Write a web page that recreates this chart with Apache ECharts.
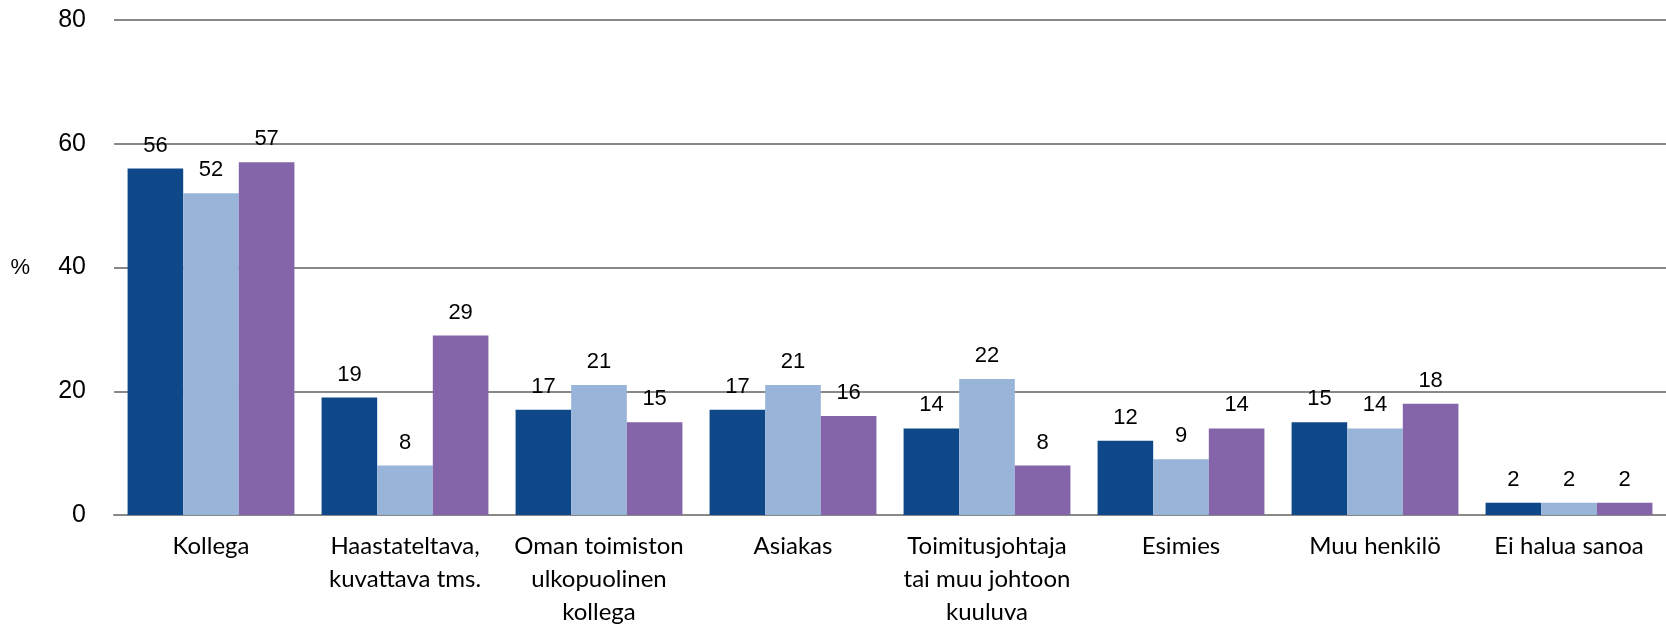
<!DOCTYPE html>
<html>
<head>
<meta charset="utf-8">
<script src="https://cdn.jsdelivr.net/npm/echarts@6/dist/echarts.min.js"></script>
<style>
  html, body { margin: 0; padding: 0; background: #fff; }
  #chart { width: 1666px; height: 629px; }
</style>
</head>
<body>
<div id="chart"></div>
<script>
// kategoriat (x-akseli)
const categories = [
  'Kollega',
  'Haastateltava,\nkuvattava tms.',
  'Oman toimiston\nulkopuolinen\nkollega',
  'Asiakas',
  'Toimitusjohtaja\ntai muu johtoon\nkuuluva',
  'Esimies',
  'Muu henkilö',
  'Ei halua sanoa'
];

// sarjat
const sarja1 = [56, 19, 17, 17, 14, 12, 15, 2];
const sarja2 = [52, 8, 21, 21, 22, 9, 14, 2];
const sarja3 = [57, 29, 15, 16, 8, 14, 18, 2];

const yTicks = [0, 20, 40, 60, 80];

const colors = ['#0e4889', '#98b4d9', '#8565a9'];

var chartDom = document.getElementById('chart');
var myChart = echarts.init(chartDom);

const labelStyle = {
  show: true,
  position: 'top',
  distance: 12,
  color: '#000',
  fontFamily: 'Liberation Sans',
  fontSize: 22
};

const option = {
  animation: false,
  backgroundColor: '#fff',
  grid: {
    left: 114,
    right: 0,
    top: 20,
    bottom: 110
  },
  xAxis: {
    type: 'category',
    data: categories,
    axisTick: { show: false },
    axisLine: { lineStyle: { color: '#888', width: 2 } },
    axisLabel: {
      interval: 0,
      margin: 15,
      color: '#000',
      fontFamily: 'Lato',
      fontSize: 24,
      lineHeight: 33
    }
  },
  yAxis: {
    type: 'value',
    min: yTicks[0],
    max: yTicks[yTicks.length - 1],
    interval: 20,
    name: '%',
    nameLocation: 'middle',
    nameRotate: 0,
    nameGap: 84,
    nameTextStyle: {
      color: '#000',
      fontFamily: 'Liberation Sans',
      fontSize: 22,
      padding: [30, 0, 0, 0]
    },
    axisLine: { show: false },
    axisTick: { show: false },
    axisLabel: {
      margin: 28,
      color: '#000',
      fontFamily: 'Liberation Sans',
      fontSize: 25
    },
    splitLine: { lineStyle: { color: '#888', width: 2 } }
  },
  series: [
    {
      name: 'sarja1',
      type: 'bar',
      data: sarja1,
      barGap: '0%',
      barCategoryGap: '14%',
      itemStyle: { color: colors[0] },
      label: labelStyle
    },
    {
      name: 'sarja2',
      type: 'bar',
      data: sarja2,
      barGap: '0%',
      barCategoryGap: '14%',
      itemStyle: { color: colors[1] },
      label: labelStyle
    },
    {
      name: 'sarja3',
      type: 'bar',
      data: sarja3,
      barGap: '0%',
      barCategoryGap: '14%',
      itemStyle: { color: colors[2] },
      label: labelStyle
    }
  ]
};

myChart.setOption(option);
</script>
</body>
</html>
